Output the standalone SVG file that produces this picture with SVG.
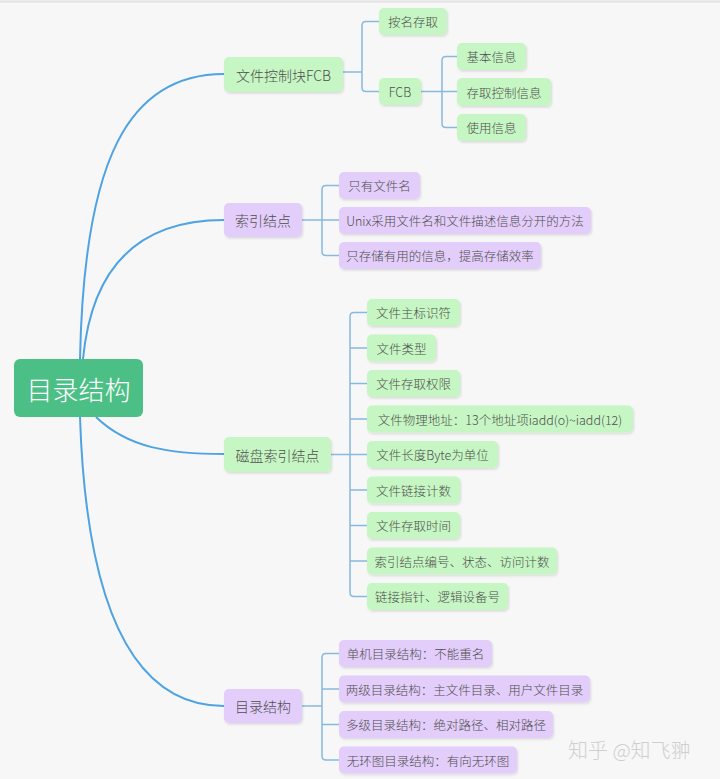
<svg xmlns="http://www.w3.org/2000/svg" width="720" height="779" viewBox="0 0 720 779">
<defs>
<filter id="sh" x="-10%" y="-20%" width="120%" height="150%">
<feDropShadow dx="1" dy="1.5" stdDeviation="0.8" flood-color="#000" flood-opacity="0.12"/>
</filter>
<style>
.g{fill:#c6f6c3;filter:url(#sh)}
.p{fill:#e3cdfa;filter:url(#sh)}
.t{font-family:"Noto Sans CJK SC","Microsoft YaHei",sans-serif;font-weight:300;fill:#4f4f4f;text-anchor:middle;dominant-baseline:central}
.s{font-size:12.5px}
.m{font-size:14px}
.c1{fill:none;stroke:#4fa3e3;stroke-width:2}
.c2{fill:none;stroke:#86b9e0;stroke-width:1.5}
</style>
</defs>
<rect x="0" y="0" width="720" height="779" fill="#f7f7f7"/>
<line x1="0" y1="1.5" x2="720" y2="1.5" stroke="#e2e2e2" stroke-width="2"/>

<g id="connectors">
<path class="c1" d="M80 359 C84 160 128 74 224 74"/>
<path class="c1" d="M83 359 C92 265 140 220 224 220"/>
<path class="c1" d="M96 417 C128 448 170 454 224 454"/>
<path class="c1" d="M80 417 C86 600 130 706 224 706"/>
<path class="c2" d="M343 72 H362 M379 21.5 H366 Q362 21.5 362 25.5 V87.5 Q362 91.5 366 91.5 H379"/>
<path class="c2" d="M421 91.5 H457 M457 56.5 H446 Q442 56.5 442 60.5 V123.5 Q442 127.5 446 127.5 H457"/>
<path class="c2" d="M302 220 H339 M339 185.5 H326 Q322 185.5 322 189.5 V251.5 Q322 255.5 326 255.5 H339"/>
<path class="c2" d="M331 454.5 H367 M367 312.5 H354 Q350 312.5 350 316.5 V592.5 Q350 596.5 354 596.5 H367 M350 348 H367 M350 383.5 H367 M350 419 H367 M350 490 H367 M350 525.5 H367 M350 561 H367"/>
<path class="c2" d="M302 706 H322 M339 653.5 H326 Q322 653.5 322 657.5 V756 Q322 760 326 760 H339 M322 689 H339 M322 724.5 H339"/>
</g>

<g id="root">
<rect x="14" y="359" width="129" height="58" rx="6" fill="#4cbf86"/>
<text class="t" x="78.5" y="388" style="font-size:26px;fill:#fff">目录结构</text>
</g>

<g id="n-fcb">
<rect class="g" x="224" y="57" width="119" height="35" rx="5"/>
<text class="t m" x="283.5" y="74.5">文件控制块FCB</text>
</g>
<g id="n-anming">
<rect class="g" x="379" y="8" width="68" height="27" rx="5"/>
<text class="t s" x="413" y="21.5">按名存取</text>
</g>
<g id="n-fcb2">
<rect class="g" x="379" y="78" width="42" height="27" rx="5"/>
<text class="t s" x="400" y="91.5">FCB</text>
</g>
<g id="n-jiben">
<rect class="g" x="457" y="43" width="69" height="27" rx="5"/>
<text class="t s" x="491.5" y="56.5">基本信息</text>
</g>
<g id="n-cunqu">
<rect class="g" x="457" y="78" width="94" height="28" rx="5"/>
<text class="t s" x="504" y="92">存取控制信息</text>
</g>
<g id="n-shiyong">
<rect class="g" x="457" y="114" width="69" height="27" rx="5"/>
<text class="t s" x="491.5" y="127.5">使用信息</text>
</g>

<g id="n-suoyin">
<rect class="p" x="224" y="203" width="78" height="34" rx="5"/>
<text class="t m" x="263" y="220">索引结点</text>
</g>
<g id="n-s1">
<rect class="p" x="339" y="172" width="81" height="27" rx="5"/>
<text class="t s" x="379.5" y="185.5">只有文件名</text>
</g>
<g id="n-s2">
<rect class="p" x="339" y="207" width="252" height="27" rx="5"/>
<text class="t s" x="465" y="220.5">Unix采用文件名和文件描述信息分开的方法</text>
</g>
<g id="n-s3">
<rect class="p" x="339" y="242" width="202" height="27" rx="5"/>
<text class="t s" x="440" y="255.5">只存储有用的信息，提高存储效率</text>
</g>

<g id="n-cipan">
<rect class="g" x="224" y="437" width="107" height="35" rx="5"/>
<text class="t m" x="277.5" y="454.5">磁盘索引结点</text>
</g>
<g id="n-d1"><rect class="g" x="367" y="299" width="93" height="27" rx="5"/><text class="t s" x="413.5" y="312.5">文件主标识符</text></g>
<g id="n-d2"><rect class="g" x="367" y="334.5" width="69" height="27" rx="5"/><text class="t s" x="401.5" y="348">文件类型</text></g>
<g id="n-d3"><rect class="g" x="367" y="370" width="93" height="27" rx="5"/><text class="t s" x="413.5" y="383.5">文件存取权限</text></g>
<g id="n-d4"><rect class="g" x="367" y="405.5" width="266" height="27" rx="5"/><text class="t s" x="500" y="419">文件物理地址：13个地址项iadd(o)~iadd(12)</text></g>
<g id="n-d5"><rect class="g" x="367" y="441" width="131" height="27" rx="5"/><text class="t s" x="432.5" y="454.5">文件长度Byte为单位</text></g>
<g id="n-d6"><rect class="g" x="367" y="476.5" width="93" height="27" rx="5"/><text class="t s" x="413.5" y="490">文件链接计数</text></g>
<g id="n-d7"><rect class="g" x="367" y="512" width="93" height="27" rx="5"/><text class="t s" x="413.5" y="525.5">文件存取时间</text></g>
<g id="n-d8"><rect class="g" x="367" y="547.5" width="190" height="27" rx="5"/><text class="t s" x="462" y="561">索引结点编号、状态、访问计数</text></g>
<g id="n-d9"><rect class="g" x="367" y="583" width="141" height="27" rx="5"/><text class="t s" x="437.5" y="596.5">链接指针、逻辑设备号</text></g>

<g id="n-mulu">
<rect class="p" x="224" y="689" width="78" height="34" rx="5"/>
<text class="t m" x="263" y="706">目录结构</text>
</g>
<g id="n-m1"><rect class="p" x="339" y="640" width="153" height="27" rx="5"/><text class="t s" x="415.5" y="653.5">单机目录结构：不能重名</text></g>
<g id="n-m2"><rect class="p" x="339" y="675.5" width="251" height="27" rx="5"/><text class="t s" x="464.5" y="689">两级目录结构：主文件目录、用户文件目录</text></g>
<g id="n-m3"><rect class="p" x="339" y="711" width="214" height="27" rx="5"/><text class="t s" x="446" y="724.5">多级目录结构：绝对路径、相对路径</text></g>
<g id="n-m4"><rect class="p" x="339" y="746.5" width="178" height="27" rx="5"/><text class="t s" x="428" y="760">无环图目录结构：有向无环图</text></g>

<text x="568" y="758" style="font-family:'Noto Sans CJK SC',sans-serif;font-weight:300;font-size:20px;fill:#cfcfcf">知乎 @知飞翀</text>
</svg>
